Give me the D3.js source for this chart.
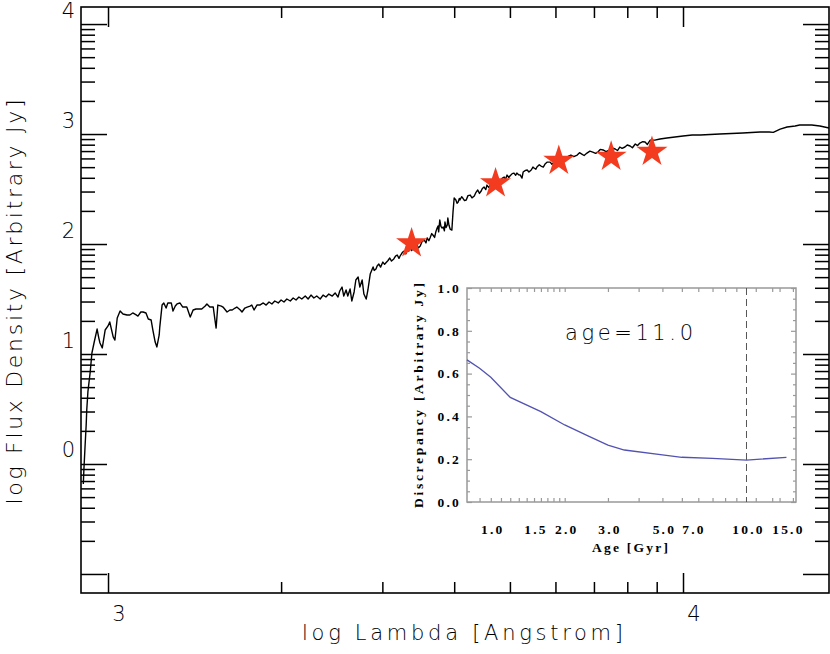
<!DOCTYPE html>
<html><head><meta charset="utf-8">
<script src="https://cdn.jsdelivr.net/npm/d3@7"></script>
<style>body{margin:0;background:#fff} svg{display:block}</style>
</head><body><svg id="c" width="830" height="654"></svg>
<script>
// ---------------- DATA ----------------
const specLogLambda = [
2.957,2.958,2.960,2.962,2.963,2.965,2.969,2.972,2.976,2.981,2.984,2.986,2.990,2.995,3.000,3.003,3.009,3.012,3.016,3.021,
3.026,3.033,3.038,3.043,3.049,3.052,3.057,3.061,3.066,3.070,3.075,3.078,3.082,3.085,3.089,3.090,3.094,3.097,3.101,3.104,
3.110,3.113,3.117,3.120,3.125,3.130,3.137,3.143,3.148,3.153,3.157,3.163,3.169,3.172,3.177,3.183,3.186,3.188,3.191,3.197,
3.200,3.207,3.212,3.216,3.221,3.224,3.230,3.233,3.238,3.242,3.247,3.250,3.254,3.259,3.264,
3.270,3.275,3.280,3.285,3.290,3.296,3.301,3.306,3.311,3.317,3.322,3.327,3.332,3.337,3.343,3.348,3.353,3.358,3.363,3.369,
3.374,3.379,3.384,3.390,3.395,3.400,3.403,3.407,3.410,3.414,3.417,3.421,3.424,3.428,3.431,3.435,3.438,3.442,3.445,3.449,
3.452,3.456,
3.461,3.463,3.466,3.468,3.471,3.474,3.478,3.481,3.483,3.487,3.490,3.493,3.497,3.500,3.503,3.506,3.508,3.512,3.515,3.518,
3.520,3.523,3.525,3.528,3.530,3.534,3.537,3.540,3.543,3.546,3.550,3.553,3.555,3.558,3.560,3.563,3.565,3.568,3.570,3.572,
3.574,3.575,3.577,3.579,3.581,3.583,3.585,3.586,3.588,3.590,3.591,3.593,3.595,3.598,3.600,3.602,3.605,3.607,3.609,3.611,
3.612,3.615,3.617,3.620,3.623,3.626,3.630,3.633,3.637,3.640,3.643,3.646,3.649,3.651,3.654,3.657,3.659,3.662,3.664,3.667,
3.671,3.674,3.677,3.680,3.682,3.686,3.689,3.691,3.694,3.697,3.699,3.703,3.706,3.709,3.711,3.714,3.717,3.720,3.722,3.726,
3.729,3.732,3.736,3.739,3.741,3.744,3.746,3.750,3.753,3.757,3.760,3.764,3.769,3.772,3.776,3.779,3.783,3.787,3.791,3.794,
3.798,3.801,3.805,3.810,3.816,3.820,3.824,3.828,3.833,3.838,3.843,3.848,3.852,3.856,3.861,3.866,3.873,3.877,3.882,3.886,
3.890,3.894,3.899,3.903,3.908,3.912,3.917,3.921,3.925,3.930,3.934,3.938,3.943,
3.951,3.960,3.972,3.986,4.000,4.016,4.030,4.064,4.104,4.134,4.150,4.157,4.169,4.181,4.195,4.203,4.224,4.238,4.254];
const specLogFlux = [
-0.182,-0.055,0.155,0.355,0.491,0.655,0.836,1.009,1.109,1.227,1.145,1.100,1.055,1.218,1.255,1.291,1.155,1.127,1.327,1.391,
1.364,1.355,1.355,1.373,1.355,1.345,1.382,1.382,1.373,1.318,1.309,1.218,1.109,1.064,1.173,1.245,1.445,1.464,1.418,1.464,
1.464,1.391,1.436,1.455,1.464,1.427,1.427,1.336,1.400,1.409,1.409,1.409,1.436,1.455,1.427,1.427,1.309,1.236,1.445,1.436,
1.427,1.382,1.400,1.400,1.418,1.427,1.400,1.382,1.418,1.427,1.436,1.445,1.400,1.445,1.445,
1.464,1.445,1.473,1.455,1.482,1.464,1.491,1.473,1.500,1.482,1.509,1.491,1.518,1.500,1.527,1.500,1.536,1.509,1.527,1.500,
1.536,1.518,1.545,1.527,1.555,1.518,1.573,1.609,1.527,1.582,1.527,1.591,1.482,1.564,1.673,1.700,1.609,1.673,1.545,1.500,
1.582,1.727,
1.791,1.760,1.773,1.800,1.818,1.790,1.836,1.815,1.827,1.850,1.873,1.845,1.864,1.890,1.900,1.870,1.891,1.925,1.936,1.910,
1.945,1.935,1.964,1.940,1.955,1.985,1.991,1.965,1.982,2.020,2.036,2.010,2.055,2.030,2.055,2.095,2.082,2.060,2.109,2.140,
2.164,2.110,2.218,2.160,2.145,2.155,2.120,2.200,2.150,2.173,2.236,2.170,2.136,2.127,2.291,2.418,2.400,2.370,2.382,2.415,
2.400,2.430,2.418,2.395,2.400,2.440,2.445,2.420,2.436,2.470,2.491,2.460,2.482,2.505,2.518,2.495,2.536,2.515,2.527,2.550,
2.564,2.540,2.582,2.560,2.573,2.600,2.609,2.585,2.627,2.605,2.618,2.640,2.645,2.625,2.645,2.630,2.627,2.600,2.655,2.670,
2.673,2.655,2.673,2.700,2.691,2.680,2.700,2.720,2.709,2.700,2.727,2.745,2.745,2.725,2.745,2.770,2.773,2.760,2.782,2.770,
2.782,2.800,2.809,2.795,2.809,2.830,2.818,2.805,2.827,2.845,2.836,2.825,2.836,2.860,2.855,2.840,2.855,2.875,2.864,2.850,
2.882,2.870,2.882,2.900,2.891,2.875,2.909,2.895,2.918,2.930,2.927,2.905,2.945,
2.945,2.955,2.964,2.973,2.982,2.991,2.991,3.000,3.009,3.018,3.018,3.015,3.045,3.064,3.073,3.082,3.082,3.073,3.055];

const starLogLambda = [3.528, 3.674, 3.784, 3.875, 3.946];
const starLogFlux   = [2.006, 2.552, 2.757, 2.794, 2.839];

const xDecades = [3, 4];
const xTickLabels = ["3", "4"];
const yDecades = [-1, 0, 1, 2, 3, 4];
const yTickLabels = ["", "0", "1", "2", "3", "4"];
const minorMultipliers = [2, 3, 4, 5, 6, 7, 8, 9];

// inset
const ages = [0.8, 0.9, 1.0, 1.2, 1.6, 2.0, 2.5, 3.0, 3.5, 5.0, 6.0, 8.0, 11.0, 16.0];
const discrepancy = [0.664, 0.625, 0.583, 0.489, 0.422, 0.360, 0.308, 0.266, 0.243, 0.220, 0.209, 0.204, 0.196, 0.209];
const ageLabelValues = [1.0, 1.5, 2.0, 3.0, 5.0, 6.6, 11.0, 16.0];
const ageLabelNames = ["1.0", "1.5", "2.0", "3.0", "5.0", "7.0", "10.0", "15.0"];
const ageTickValues = [0.9,1.0,1.1,1.2,1.3,1.4,1.5,1.6,1.7,1.8,1.9,2.0,3.0,4.0,5.0,6.0,7.0,8.0,9.0,10.0,12.0,14.0,15.0,17.0];
const discMajor = [0.0, 0.2, 0.4, 0.6, 0.8, 1.0];
const discMinor = [0.05,0.1,0.15,0.25,0.3,0.35,0.45,0.5,0.55,0.65,0.7,0.75,0.85,0.9,0.95];
const bestAge = 11.0;

// ---------------- DRAW ----------------
const svg = d3.select("#c");
const HFONT = "'DejaVu Sans', sans-serif";
const frame = {l: 81, r: 829, t: 7, b: 593};
const x = d3.scaleLinear().domain([2.953, 4.2539]).range([frame.l, frame.r]);
const y = d3.scaleLinear().domain([-1.173, 4.155]).range([frame.b, frame.t]);

const inDom = (s) => (v) => { const p = s(v); const r = s.range(); return p > Math.min(...r) + 1 && p < Math.max(...r) - 1; };
const xMinor = [], yMinor = [];
[2, 3, 4].forEach(n => minorMultipliers.forEach(k => xMinor.push(n + Math.log10(k))));
[-2, -1, 0, 1, 2, 3, 4].forEach(n => minorMultipliers.forEach(k => yMinor.push(n + Math.log10(k))));
const xMin = xMinor.filter(inDom(x)).filter(v => v > 2.97);
const yMin = yMinor.filter(inDom(y)).filter(v => v > -1);

function styleAxis(g, color, w) {
  g.select(".domain").remove();
  g.selectAll("line").attr("stroke", color).attr("stroke-width", w);
  g.selectAll("text").remove();
}
// main frame ticks
svg.append("g").attr("transform", `translate(0,${frame.b})`).call(d3.axisBottom(x).tickValues(xMin).tickSize(-11).tickFormat("")).call(styleAxis, "#000", 1.5);
svg.append("g").attr("transform", `translate(0,${frame.b})`).call(d3.axisBottom(x).tickValues(xDecades).tickSize(-20).tickFormat("")).call(styleAxis, "#000", 1.5);
svg.append("g").attr("transform", `translate(0,${frame.t})`).call(d3.axisTop(x).tickValues(xMin).tickSize(-11).tickFormat("")).call(styleAxis, "#000", 1.5);
svg.append("g").attr("transform", `translate(0,${frame.t})`).call(d3.axisTop(x).tickValues(xDecades).tickSize(-20).tickFormat("")).call(styleAxis, "#000", 1.5);
svg.append("g").attr("transform", `translate(${frame.l},0)`).call(d3.axisLeft(y).tickValues(yMin).tickSize(-14).tickFormat("")).call(styleAxis, "#000", 1.5);
svg.append("g").attr("transform", `translate(${frame.l},0)`).call(d3.axisLeft(y).tickValues(yDecades).tickSize(-26).tickFormat("")).call(styleAxis, "#000", 1.5);
svg.append("g").attr("transform", `translate(${frame.r},0)`).call(d3.axisRight(y).tickValues(yMin).tickSize(-14).tickFormat("")).call(styleAxis, "#000", 1.5);
svg.append("g").attr("transform", `translate(${frame.r},0)`).call(d3.axisRight(y).tickValues(yDecades).tickSize(-26).tickFormat("")).call(styleAxis, "#000", 1.5);

svg.append("rect").attr("x", frame.l).attr("y", frame.t).attr("width", frame.r - frame.l).attr("height", frame.b - frame.t)
  .attr("fill", "none").attr("stroke", "#000").attr("stroke-width", 1.6);

// tick labels
svg.selectAll(".xl").data(xDecades).join("text").attr("class", "xl")
  .attr("x", d => x(d) + 11).attr("y", 621).attr("text-anchor", "middle").attr("fill", "#000")
  .attr("font-family", HFONT).attr("font-weight", 200).attr("font-size", 21).text((d, i) => xTickLabels[i]);
svg.selectAll(".yl").data(yDecades).join("text").attr("class", "yl")
  .attr("x", 68.5).attr("y", d => y(d) - 6.5).attr("text-anchor", "middle").attr("fill", "#000")
  .attr("font-family", HFONT).attr("font-weight", 200).attr("font-size", 21).text((d, i) => yTickLabels[i]);

// axis titles
svg.append("text").attr("x", 302).attr("y", 640).attr("font-family", HFONT).attr("font-weight", 200).attr("font-size", 21)
  .attr("fill", "#000").attr("textLength", 321).attr("lengthAdjust", "spacing").text("log Lambda [Angstrom]");
svg.append("text").attr("transform", "translate(22,302) rotate(-90)").attr("text-anchor", "middle").attr("fill", "#000")
  .attr("font-family", HFONT).attr("font-weight", 200).attr("font-size", 22)
  .attr("textLength", 405).attr("lengthAdjust", "spacing").text("log Flux Density [Arbitrary Jy]");

// spectrum
const spec = specLogLambda.map((l, i) => [l, specLogFlux[i]]);
svg.append("path").datum(spec).attr("fill", "none").attr("stroke", "#000").attr("stroke-width", 1.4)
  .attr("stroke-linejoin", "round")
  .attr("d", d3.line().x(d => x(d[0])).y(d => y(d[1])));

// stars
const star = d3.symbol(d3.symbolStar, 300);
svg.selectAll(".star").data(starLogLambda).join("path").attr("class", "star")
  .attr("transform", (d, i) => `translate(${x(d)},${y(starLogFlux[i])})`)
  .attr("d", star).attr("fill", "#f33c1f");

// ---------------- INSET ----------------
const ins = {l: 467, r: 796, t: 288, b: 502};
const xi = d3.scaleLog().domain([0.8, 17.5]).range([ins.l, ins.r]);
const yi = d3.scaleLinear().domain([0, 1]).range([ins.b, ins.t]);
const IC = "#999";
svg.append("rect").attr("x", ins.l).attr("y", ins.t).attr("width", ins.r - ins.l).attr("height", ins.b - ins.t)
  .attr("fill", "#fff").attr("stroke", "none");
svg.append("g").attr("transform", `translate(0,${ins.b})`).call(d3.axisBottom(xi).tickValues(ageTickValues).tickSize(-4).tickFormat("")).call(styleAxis, IC, 1.2);
svg.append("g").attr("transform", `translate(0,${ins.t})`).call(d3.axisTop(xi).tickValues(ageTickValues).tickSize(-4).tickFormat("")).call(styleAxis, IC, 1.2);
svg.append("g").attr("transform", `translate(${ins.l},0)`).call(d3.axisLeft(yi).tickValues(discMinor).tickSize(-3).tickFormat("")).call(styleAxis, IC, 1.2);
svg.append("g").attr("transform", `translate(${ins.l},0)`).call(d3.axisLeft(yi).tickValues(discMajor).tickSize(-5).tickFormat("")).call(styleAxis, IC, 1.2);
svg.append("g").attr("transform", `translate(${ins.r},0)`).call(d3.axisRight(yi).tickValues(discMinor).tickSize(-3).tickFormat("")).call(styleAxis, IC, 1.2);
svg.append("g").attr("transform", `translate(${ins.r},0)`).call(d3.axisRight(yi).tickValues(discMajor).tickSize(-5).tickFormat("")).call(styleAxis, IC, 1.2);
svg.append("rect").attr("x", ins.l).attr("y", ins.t).attr("width", ins.r - ins.l).attr("height", ins.b - ins.t)
  .attr("fill", "none").attr("stroke", IC).attr("stroke-width", 1.5);

// dashed best-age line
svg.append("line").attr("x1", xi(bestAge)).attr("x2", xi(bestAge)).attr("y1", ins.t).attr("y2", ins.b)
  .attr("stroke", "#555").attr("stroke-width", 1).attr("stroke-dasharray", "7,4");

// curve
svg.append("path").datum(ages.map((a, i) => [a, discrepancy[i]])).attr("fill", "none")
  .attr("stroke", "#5252b2").attr("stroke-width", 1.3)
  .attr("d", d3.line().x(d => xi(d[0])).y(d => yi(d[1])));

const SERIF = "'Liberation Serif', 'Times New Roman', serif";
svg.selectAll(".iyl").data(discMajor).join("text").attr("class", "iyl")
  .attr("x", 461).attr("y", d => yi(d) + 4.8).attr("text-anchor", "end")
  .attr("font-family", SERIF).attr("font-weight", "bold").attr("font-size", 13.5).attr("letter-spacing", 2.2)
  .text(d => d.toFixed(1));
svg.selectAll(".ixl").data(ageLabelValues).join("text").attr("class", "ixl")
  .attr("x", d => xi(d) + 2).attr("y", 533.5).attr("text-anchor", "middle")
  .attr("font-family", SERIF).attr("font-weight", "bold").attr("font-size", 13.5).attr("letter-spacing", 2.2)
  .text((d, i) => ageLabelNames[i]);
svg.append("text").attr("x", 630).attr("y", 552).attr("text-anchor", "middle")
  .attr("font-family", SERIF).attr("font-weight", "bold").attr("font-size", 13.5)
  .attr("textLength", 76).attr("lengthAdjust", "spacing").text("Age [Gyr]");
svg.append("text").attr("transform", "translate(423,395.5) rotate(-90)").attr("text-anchor", "middle")
  .attr("font-family", SERIF).attr("font-weight", "bold").attr("font-size", 13.5)
  .attr("textLength", 225).attr("lengthAdjust", "spacing").text("Discrepancy [Arbitrary Jy]");
svg.append("text").attr("x", 629).attr("y", 340).attr("text-anchor", "middle").attr("fill", "#000")
  .attr("font-family", HFONT).attr("font-weight", 200).attr("font-size", 21)
  .attr("textLength", 128).attr("lengthAdjust", "spacing").text("age=11.0");
</script></body></html>
